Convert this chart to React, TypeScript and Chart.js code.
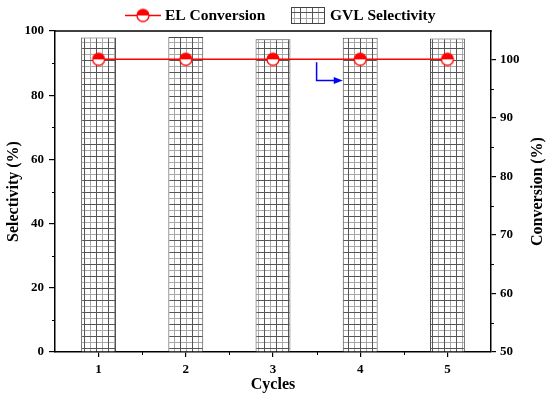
import React, { useEffect, useRef } from 'react';
import { Chart, registerables } from 'chart.js';
Chart.register(...registerables);

const cycles = ['1', '2', '3', '4', '5'];
const gvlSelectivity = [98.0, 98.1, 97.4, 97.9, 97.7];
const elConversion = [100, 100, 100, 100, 100];
const selectivityTicks = [0, 20, 40, 60, 80, 100];
const selectivityMinor = [10, 30, 50, 70, 90];
const conversionTicks = [50, 60, 70, 80, 90, 100];
const conversionMinor = [55, 65, 75, 85, 95];

const FONT = "'Times New Roman', 'Liberation Serif', serif";

function makeMarker(): HTMLCanvasElement {
  const c = document.createElement('canvas');
  c.width = 16; c.height = 16;
  const g = c.getContext('2d')!;
  g.beginPath(); g.arc(8, 8, 6, 0, Math.PI * 2); g.fillStyle = '#fff'; g.fill();
  g.beginPath(); g.arc(8, 8, 6, Math.PI, Math.PI * 2); g.closePath(); g.fillStyle = '#ff0000'; g.fill();
  g.beginPath(); g.arc(8, 8, 6, 0, Math.PI * 2); g.lineWidth = 1.3; g.strokeStyle = '#ff0000'; g.stroke();
  return c;
}

function makePattern(ctx: CanvasRenderingContext2D): CanvasPattern {
  const c = document.createElement('canvas');
  c.width = 12; c.height = 12;
  const g = c.getContext('2d')!;
  g.fillStyle = '#fff'; g.fillRect(0, 0, 12, 12);
  g.fillStyle = '#a8a8a8'; g.fillRect(6, 0, 1, 12); g.fillRect(0, 6, 12, 1);
  g.fillStyle = '#555'; g.fillRect(0, 0, 1, 12); g.fillRect(0, 0, 12, 1);
  return ctx.createPattern(c, 'repeat')!;
}

export default function App() {
  const ref = useRef<HTMLCanvasElement>(null);
  useEffect(() => {
    const canvas = ref.current!;
    const ctx0 = canvas.getContext('2d')!;
    const marker = makeMarker();
    const pattern = makePattern(ctx0);

    const decor = {
      id: 'decor',
      afterDraw(chart: any) {
        const { ctx, chartArea: a, scales } = chart;
        const x = scales.x, yl = scales.y, yr = scales.y1;
        ctx.save();
        ctx.strokeStyle = '#000';
        ctx.lineWidth = 1.5;
        ctx.beginPath(); ctx.moveTo(a.left - 0.75, a.top); ctx.lineTo(a.right + 0.75, a.top); ctx.stroke();
        ctx.lineWidth = 1;
        for (let i = 1; i < cycles.length; i++) {
          const px = Math.round(x.getPixelForValue(i - 0.5)) + 0.5;
          ctx.beginPath(); ctx.moveTo(px, a.bottom); ctx.lineTo(px, a.bottom + 3); ctx.stroke();
        }
        selectivityMinor.forEach((v) => {
          const py = Math.round(yl.getPixelForValue(v)) + 0.5;
          ctx.beginPath(); ctx.moveTo(a.left - 3, py); ctx.lineTo(a.left, py); ctx.stroke();
        });
        conversionMinor.forEach((v) => {
          const py = Math.round(yr.getPixelForValue(v)) + 0.5;
          ctx.beginPath(); ctx.moveTo(a.right, py); ctx.lineTo(a.right + 3, py); ctx.stroke();
        });
        // blue arrow pointing to right axis
        const ax = x.getPixelForValue(2.5);
        const ay0 = yr.getPixelForValue(elConversion[2]) + 3;
        const ay1 = yr.getPixelForValue(96.4);
        const axEnd = x.getPixelForValue(2.8);
        ctx.strokeStyle = '#0000ff';
        ctx.fillStyle = '#0000ff';
        ctx.lineWidth = 1.5;
        ctx.beginPath(); ctx.moveTo(ax, ay0); ctx.lineTo(ax, ay1); ctx.lineTo(axEnd - 8, ay1); ctx.stroke();
        ctx.beginPath(); ctx.moveTo(axEnd, ay1); ctx.lineTo(axEnd - 9, ay1 - 3.5); ctx.lineTo(axEnd - 9, ay1 + 3.5); ctx.closePath(); ctx.fill();
        // right axis title
        ctx.fillStyle = '#000';
        ctx.font = `bold 16px ${FONT}`;
        ctx.textAlign = 'center';
        ctx.textBaseline = 'middle';
        ctx.save();
        ctx.translate(538, (a.top + a.bottom) / 2);
        ctx.rotate(-Math.PI / 2);
        ctx.fillText('Conversion (%)', 0, 0);
        ctx.restore();
        // legend
        const ly = 15.5;
        ctx.strokeStyle = '#ff0000';
        ctx.lineWidth = 1.5;
        ctx.beginPath(); ctx.moveTo(125, ly); ctx.lineTo(161, ly); ctx.stroke();
        ctx.drawImage(marker, 143 - 8, ly - 8);
        ctx.font = `bold 15.5px ${FONT}`;
        ctx.textAlign = 'left';
        ctx.fillStyle = '#000';
        ctx.fillText('EL Conversion', 165, ly + 0.5);
        ctx.fillStyle = pattern;
        ctx.fillRect(291, 7.5, 33, 16);
        ctx.strokeStyle = '#444';
        ctx.lineWidth = 1;
        ctx.strokeRect(291.5, 7.5, 33, 16);
        ctx.fillStyle = '#000';
        ctx.fillText('GVL Selectivity', 330, ly + 0.5);
        ctx.restore();
      },
    };

    const tickFont = { family: FONT, size: 13, weight: 'bold' as const };
    const titleFont = { family: FONT, size: 16, weight: 'bold' as const };

    const chart = new Chart(canvas, {
      type: 'bar',
      data: {
        labels: cycles,
        datasets: [
          {
            type: 'line',
            label: 'EL Conversion',
            data: elConversion,
            yAxisID: 'y1',
            borderColor: '#ff0000',
            borderWidth: 1.5,
            pointStyle: marker as any,
            pointRadius: 6,
            order: 0,
          } as any,
          {
            type: 'bar',
            label: 'GVL Selectivity',
            data: gvlSelectivity,
            yAxisID: 'y',
            backgroundColor: pattern as any,
            borderColor: '#444',
            borderWidth: 1,
            categoryPercentage: 1,
            barPercentage: 0.4,
            order: 1,
          },
        ],
      },
      options: {
        animation: false,
        responsive: true,
        maintainAspectRatio: false,
        layout: { padding: { top: 31, left: 0, right: 0, bottom: 0 } },
        plugins: { legend: { display: false }, tooltip: { enabled: false } },
        scales: {
          x: {
            type: 'category',
            offset: true,
            grid: { offset: false, drawOnChartArea: false, drawTicks: true, tickLength: 5, color: '#000', lineWidth: 1.2 },
            border: { display: true, color: '#000', width: 1.5 },
            ticks: { font: tickFont, color: '#000', padding: 5 },
            title: { display: true, text: 'Cycles', font: titleFont, color: '#000', padding: { top: 0, bottom: 4 } },
            afterFit: (s: any) => { s.height = 46; },
          },
          y: {
            position: 'left',
            min: 0,
            max: 100,
            afterBuildTicks: (s: any) => { s.ticks = selectivityTicks.map((v) => ({ value: v })); },
            grid: { drawOnChartArea: false, drawTicks: true, tickLength: 6, color: '#000', lineWidth: 1.2 },
            border: { display: true, color: '#000', width: 1.5 },
            ticks: { font: tickFont, color: '#000', padding: 5 },
            title: { display: true, text: 'Selectivity (%)', font: titleFont, color: '#000', padding: { top: 4, bottom: 0 } },
            afterFit: (s: any) => { s.width = 55; },
          },
          y1: {
            position: 'right',
            min: 50,
            max: 104.84,
            afterBuildTicks: (s: any) => { s.ticks = conversionTicks.map((v) => ({ value: v })); },
            grid: { drawOnChartArea: false, drawTicks: true, tickLength: 5, color: '#000', lineWidth: 1.2 },
            border: { display: true, color: '#000', width: 1.5 },
            ticks: { font: tickFont, color: '#000', padding: 4 },
            afterFit: (s: any) => { s.width = 59; },
          },
        },
      },
      plugins: [decor],
    });
    return () => chart.destroy();
  }, []);

  return (
    <div style={{ position: 'fixed', left: 0, top: 0, width: 550, height: 398, background: '#fff' }}>
      <canvas ref={ref} />
    </div>
  );
}
